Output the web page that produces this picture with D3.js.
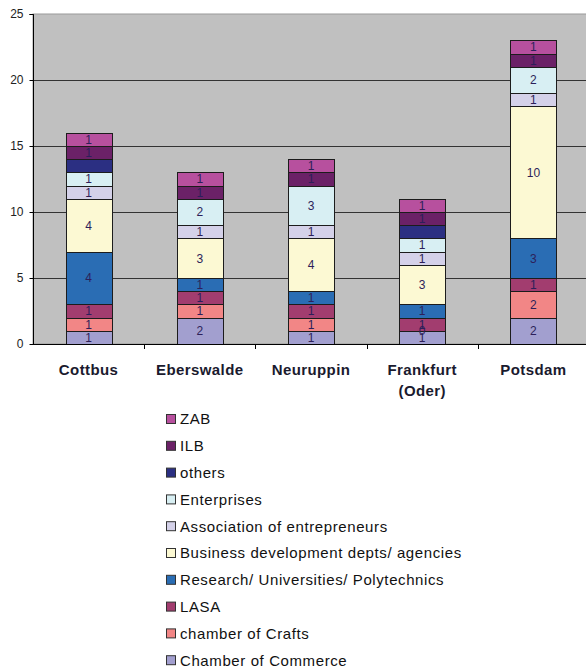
<!DOCTYPE html>
<html lang="en">
<head>
  <meta charset="UTF-8" />
  <title>Stacked bars by city</title>
  <script src="https://d3js.org/d3.v7.min.js"></script>
  <style>
    body {
      margin: 0;
      background: #fff;
      font-family: "Liberation Sans", Arial, sans-serif;
    }
    .tick-label { font-size: 12px; fill: #222; }
    .city { font-size: 15px; font-weight: bold; fill: #1a1a2e; letter-spacing: 0.4px; }
    .val { font-size: 12px; fill: #2d1f5a; text-anchor: middle; }
    .legend text { font-size: 15px; fill: #111; letter-spacing: 0.6px; }
  </style>
</head>
<body>
  <svg width="586" height="671"></svg>

  <script>
    const cities = ["Cottbus", "Eberswalde", "Neuruppin", "Frankfurt (Oder)", "Potsdam"];

    // bottom to top
    const chamberOfCommerce = [1, 2, 1, 1, 2];
    const chamberOfCrafts = [1, 1, 1, 0, 2];
    const lasa = [1, 1, 1, 1, 1];
    const research = [4, 1, 1, 1, 3];
    const businessDev = [4, 3, 4, 3, 10];
    const association = [1, 1, 1, 1, 1];
    const enterprises = [1, 2, 3, 1, 2];
    const others = [1, 0, 0, 1, 0];
    const ilb = [1, 1, 1, 1, 1];
    const zab = [1, 1, 1, 1, 1];

    const yTicks = [0, 5, 10, 15, 20, 25];

    const series = [
      { key: "Chamber of Commerce", values: chamberOfCommerce, color: "#a29fcf", labels: true },
      { key: "chamber of Crafts", values: chamberOfCrafts, color: "#f28686", labels: true },
      { key: "LASA", values: lasa, color: "#a23d6f", labels: true },
      { key: "Research/ Universities/ Polytechnics", values: research, color: "#2a6db4", labels: true },
      { key: "Business development depts/ agencies", values: businessDev, color: "#fcf9d3", labels: true },
      { key: "Association of entrepreneurs", values: association, color: "#d4d1e9", labels: true },
      { key: "Enterprises", values: enterprises, color: "#d8eff3", labels: true },
      { key: "others", values: others, color: "#2b2f82", labels: false },
      { key: "ILB", values: ilb, color: "#6b2167", labels: true },
      { key: "ZAB", values: zab, color: "#b7509e", labels: true }
    ];

    const rows = cities.map((c, i) => {
      const r = { city: c };
      series.forEach(s => r[s.key] = s.values[i]);
      return r;
    });

    const stacked = d3.stack().keys(series.map(s => s.key))(rows);

    const plotL = 33, plotR = 589, plotT = 14, plotB = 344;

    const svg = d3.select("svg");

    const x = d3.scaleBand()
      .domain(cities)
      .range([plotL, plotR])
      .paddingInner(0.585)
      .paddingOuter(0.2925);

    const y = d3.scaleLinear()
      .domain([0, 25])
      .range([plotB, plotT]);

    // plot area
    svg.append("rect")
      .attr("x", plotL).attr("y", plotT)
      .attr("width", plotR - plotL).attr("height", plotB - plotT)
      .attr("fill", "#c0c0c0")
      .attr("stroke", "#9a9a9a");

    // gridlines
    svg.append("g")
      .selectAll("line")
      .data(yTicks.filter(t => t > 0 && t < 25))
      .join("line")
      .attr("x1", plotL).attr("x2", plotR)
      .attr("y1", d => Math.round(y(d)) + 0.5).attr("y2", d => Math.round(y(d)) + 0.5)
      .attr("stroke", "#333");

    // bars
    const layers = svg.append("g")
      .selectAll("g")
      .data(stacked)
      .join("g")
      .attr("fill", (d, i) => series[i].color);

    layers.selectAll("rect")
      .data(d => d)
      .join("rect")
      .attr("x", d => Math.round(x(d.data.city)) + 0.5)
      .attr("y", d => Math.round(y(d[1])) + 0.5)
      .attr("width", Math.round(x.bandwidth()))
      .attr("height", d => Math.round(y(d[0])) - Math.round(y(d[1])))
      .attr("stroke", "#1c1c1c")
      .attr("stroke-width", 1)
      .style("display", d => d[1] - d[0] > 0 ? null : "none");

    // value labels
    stacked.forEach((layer, i) => {
      if (!series[i].labels) return;
      svg.append("g")
        .selectAll("text")
        .data(layer)
        .join("text")
        .attr("class", "val")
        .attr("x", d => x(d.data.city) + x.bandwidth() / 2)
        .attr("y", d => y((d[0] + d[1]) / 2))
        .attr("dy", "0.36em")
        .text(d => d[1] - d[0]);
    });

    // y axis
    const yAxis = svg.append("g")
      .attr("transform", `translate(${plotL + 0.5},0)`)
      .call(d3.axisLeft(y).tickValues(yTicks).tickSize(4).tickPadding(6));
    yAxis.select(".domain").attr("stroke", "#000").attr("d", `M-4,${plotT + 0.5}H0V${plotB + 0.5}`);
    yAxis.selectAll(".tick line").attr("stroke", "#000");
    yAxis.selectAll(".tick text").attr("class", "tick-label").attr("font-family", null).attr("font-size", null);

    // x axis
    svg.append("line")
      .attr("x1", plotL).attr("x2", plotR)
      .attr("y1", plotB + 0.5).attr("y2", plotB + 0.5)
      .attr("stroke", "#000");

    const step = x.step();
    svg.append("g")
      .selectAll("line")
      .data(cities.slice(1))
      .join("line")
      .attr("x1", d => Math.round(x(d) - step * x.paddingInner() / 2) + 0.5)
      .attr("x2", d => Math.round(x(d) - step * x.paddingInner() / 2) + 0.5)
      .attr("y1", plotB).attr("y2", plotB + 5)
      .attr("stroke", "#000");

    const cityText = svg.append("g")
      .selectAll("text")
      .data(cities)
      .join("text")
      .attr("class", "city")
      .attr("text-anchor", "middle")
      .attr("x", d => x(d) + x.bandwidth() / 2)
      .attr("y", 375);
    cityText.selectAll("tspan")
      .data(d => d.split(" ").map((w, i) => ({ w, i, c: d })))
      .join("tspan")
      .attr("x", d => x(d.c) + x.bandwidth() / 2)
      .attr("dy", d => d.i === 0 ? 0 : 21)
      .text(d => d.w);

    // legend
    const legend = svg.append("g")
      .attr("class", "legend")
      .selectAll("g")
      .data(series.slice().reverse())
      .join("g")
      .attr("transform", (d, i) => `translate(166,${419 + i * 26.8})`);

    legend.append("rect")
      .attr("x", 0.5).attr("y", -4.5)
      .attr("width", 9).attr("height", 9)
      .attr("fill", d => d.color)
      .attr("stroke", "#333");

    legend.append("text")
      .attr("x", 14)
      .attr("dy", "0.36em")
      .text(d => d.key);
  </script>
</body>
</html>
